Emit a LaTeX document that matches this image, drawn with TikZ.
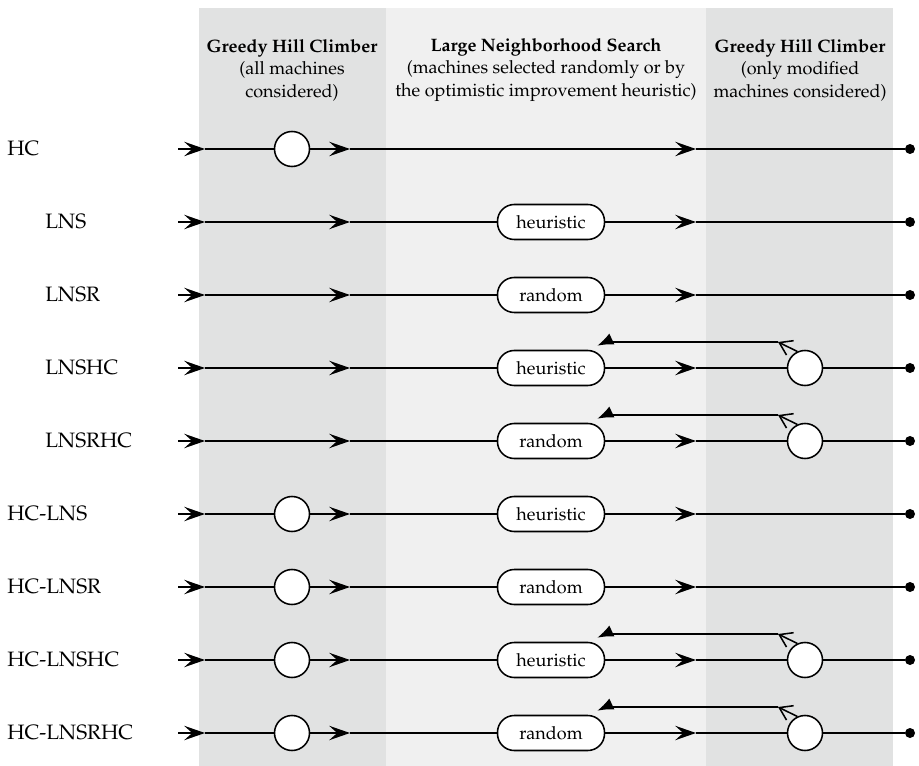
\documentclass[tikz,border=0pt]{standalone}
\usepackage[T1]{fontenc}
\usepackage{mathpazo}
\usetikzlibrary{arrows.meta}
\usetikzlibrary{calc}
\usetikzlibrary{positioning}

\definecolor{bandgray}{RGB}{225,226,226}
\definecolor{bandlight}{RGB}{240,240,240}

\begin{document}
\begin{tikzpicture}[x=0.025cm, y=-0.025cm,
		head/.style={align=center, inner sep=0pt, font=\fontsize{12.8}{16}\selectfont},
		lbl/.style={anchor=west, inner sep=0pt, font=\fontsize{14.8}{17}\selectfont},
		hc/.style={draw, circle, fill=white, line width=1.1pt, minimum size=0.875cm, inner sep=0pt},
		lns/.style={draw, rounded corners=0.42cm, fill=white, line width=1.1pt, minimum width=2.675cm, minimum height=0.875cm, inner sep=0pt, font=\fontsize{12.8}{16}\selectfont},
		dot/.style={circle, fill=black, minimum size=0.25cm, inner sep=0pt},
		line/.style={line width=1.1pt},
		flow/.style={line width=1.1pt, -{Stealth[length=5.2mm, width=3.6mm, inset=2mm]}},
		ret/.style={line width=1.1pt, -{Straight Barb[length=3mm, width=4mm]}},
		back/.style={line width=1.1pt, -{Latex[length=4mm, width=3mm]}}]
		\useasboundingbox (0,0) rectangle (919,766);
		% bands
		\fill[bandgray] (199,8) rectangle (386,766);
		\fill[bandlight] (386,8) rectangle (706,766);
		\fill[bandgray] (706,8) rectangle (893,766);
		\path 	(292,70)	node[head] (t1)	{\textbf{Greedy Hill Climber}\\(all machines\\considered)}
			(546,70)	node[head] (t2)	{\textbf{Large Neighborhood Search}\\(machines selected randomly or by\\the optimistic improvement heuristic)}
			(800,70)	node[head] (t3)	{\textbf{Greedy Hill Climber}\\(only modified\\machines considered)};
		% HC
		\path 	(7,149) node[lbl] (l1) {HC}
			(178,149) coordinate (s1) (205,149) coordinate (a1)
			(292,149) node[hc] (h1) {} (350,149) coordinate (b1)
			(696,149) coordinate (c1) (910,149) node[dot] (e1) {};
		\draw (s1) edge[flow] (a1) (a1) edge[line] (h1) (h1) edge[flow] (b1) (b1) edge[flow] (c1) (c1) edge[line] (e1);
		% LNS
		\path 	(45,222) node[lbl] (l2) {LNS}
			(178,222) coordinate (s2) (205,222) coordinate (a2) (350,222) coordinate (b2)
			(551,222) node[lns] (n2) {heuristic}
			(696,222) coordinate (c2) (910,222) node[dot] (e2) {};
		\draw (s2) edge[flow] (a2) (a2) edge[flow] (b2) (b2) edge[line] (n2) (n2) edge[flow] (c2) (c2) edge[line] (e2);
		% LNSR
		\path 	(45,295) node[lbl] (l3) {LNSR}
			(178,295) coordinate (s3) (205,295) coordinate (a3) (350,295) coordinate (b3)
			(551,295) node[lns] (n3) {random}
			(696,295) coordinate (c3) (910,295) node[dot] (e3) {};
		\draw (s3) edge[flow] (a3) (a3) edge[flow] (b3) (b3) edge[line] (n3) (n3) edge[flow] (c3) (c3) edge[line] (e3);
		% LNSHC
		\path 	(45,368) node[lbl] (l4) {LNSHC}
			(178,368) coordinate (s4) (205,368) coordinate (a4) (350,368) coordinate (b4)
			(551,368) node[lns] (n4) {heuristic}
			(696,368) coordinate (c4) (805,368) node[hc] (g4) {}
			(778,342) coordinate (f4) (910,368) node[dot] (e4) {};
		\draw (s4) edge[flow] (a4) (a4) edge[flow] (b4) (b4) edge[line] (n4) (n4) edge[flow] (c4) (c4) edge[line] (g4) (g4) edge[line] (e4);
		\draw[ret] (g4.115) -- (f4);
		\draw[back] (f4) -- (f4 -| n4.east) -- ($(n4.north east)+(-8,-4)$);
		% LNSRHC
		\path 	(45,441) node[lbl] (l5) {LNSRHC}
			(178,441) coordinate (s5) (205,441) coordinate (a5) (350,441) coordinate (b5)
			(551,441) node[lns] (n5) {random}
			(696,441) coordinate (c5) (805,441) node[hc] (g5) {}
			(778,415) coordinate (f5) (910,441) node[dot] (e5) {};
		\draw (s5) edge[flow] (a5) (a5) edge[flow] (b5) (b5) edge[line] (n5) (n5) edge[flow] (c5) (c5) edge[line] (g5) (g5) edge[line] (e5);
		\draw[ret] (g5.115) -- (f5);
		\draw[back] (f5) -- (f5 -| n5.east) -- ($(n5.north east)+(-8,-4)$);
		% HC-LNS
		\path 	(7,514) node[lbl] (l6) {HC-LNS}
			(178,514) coordinate (s6) (205,514) coordinate (a6)
			(292,514) node[hc] (h6) {} (350,514) coordinate (b6)
			(551,514) node[lns] (n6) {heuristic}
			(696,514) coordinate (c6) (910,514) node[dot] (e6) {};
		\draw (s6) edge[flow] (a6) (a6) edge[line] (h6) (h6) edge[flow] (b6) (b6) edge[line] (n6) (n6) edge[flow] (c6) (c6) edge[line] (e6);
		% HC-LNSR
		\path 	(7,587) node[lbl] (l7) {HC-LNSR}
			(178,587) coordinate (s7) (205,587) coordinate (a7)
			(292,587) node[hc] (h7) {} (350,587) coordinate (b7)
			(551,587) node[lns] (n7) {random}
			(696,587) coordinate (c7) (910,587) node[dot] (e7) {};
		\draw (s7) edge[flow] (a7) (a7) edge[line] (h7) (h7) edge[flow] (b7) (b7) edge[line] (n7) (n7) edge[flow] (c7) (c7) edge[line] (e7);
		% HC-LNSHC
		\path 	(7,660) node[lbl] (l8) {HC-LNSHC}
			(178,660) coordinate (s8) (205,660) coordinate (a8)
			(292,660) node[hc] (h8) {} (350,660) coordinate (b8)
			(551,660) node[lns] (n8) {heuristic}
			(696,660) coordinate (c8) (805,660) node[hc] (g8) {}
			(778,634) coordinate (f8) (910,660) node[dot] (e8) {};
		\draw (s8) edge[flow] (a8) (a8) edge[line] (h8) (h8) edge[flow] (b8) (b8) edge[line] (n8) (n8) edge[flow] (c8) (c8) edge[line] (g8) (g8) edge[line] (e8);
		\draw[ret] (g8.115) -- (f8);
		\draw[back] (f8) -- (f8 -| n8.east) -- ($(n8.north east)+(-8,-4)$);
		% HC-LNSRHC
		\path 	(7,733) node[lbl] (l9) {HC-LNSRHC}
			(178,733) coordinate (s9) (205,733) coordinate (a9)
			(292,733) node[hc] (h9) {} (350,733) coordinate (b9)
			(551,733) node[lns] (n9) {random}
			(696,733) coordinate (c9) (805,733) node[hc] (g9) {}
			(778,707) coordinate (f9) (910,733) node[dot] (e9) {};
		\draw (s9) edge[flow] (a9) (a9) edge[line] (h9) (h9) edge[flow] (b9) (b9) edge[line] (n9) (n9) edge[flow] (c9) (c9) edge[line] (g9) (g9) edge[line] (e9);
		\draw[ret] (g9.115) -- (f9);
		\draw[back] (f9) -- (f9 -| n9.east) -- ($(n9.north east)+(-8,-4)$);
	\end{tikzpicture}
\end{document}
